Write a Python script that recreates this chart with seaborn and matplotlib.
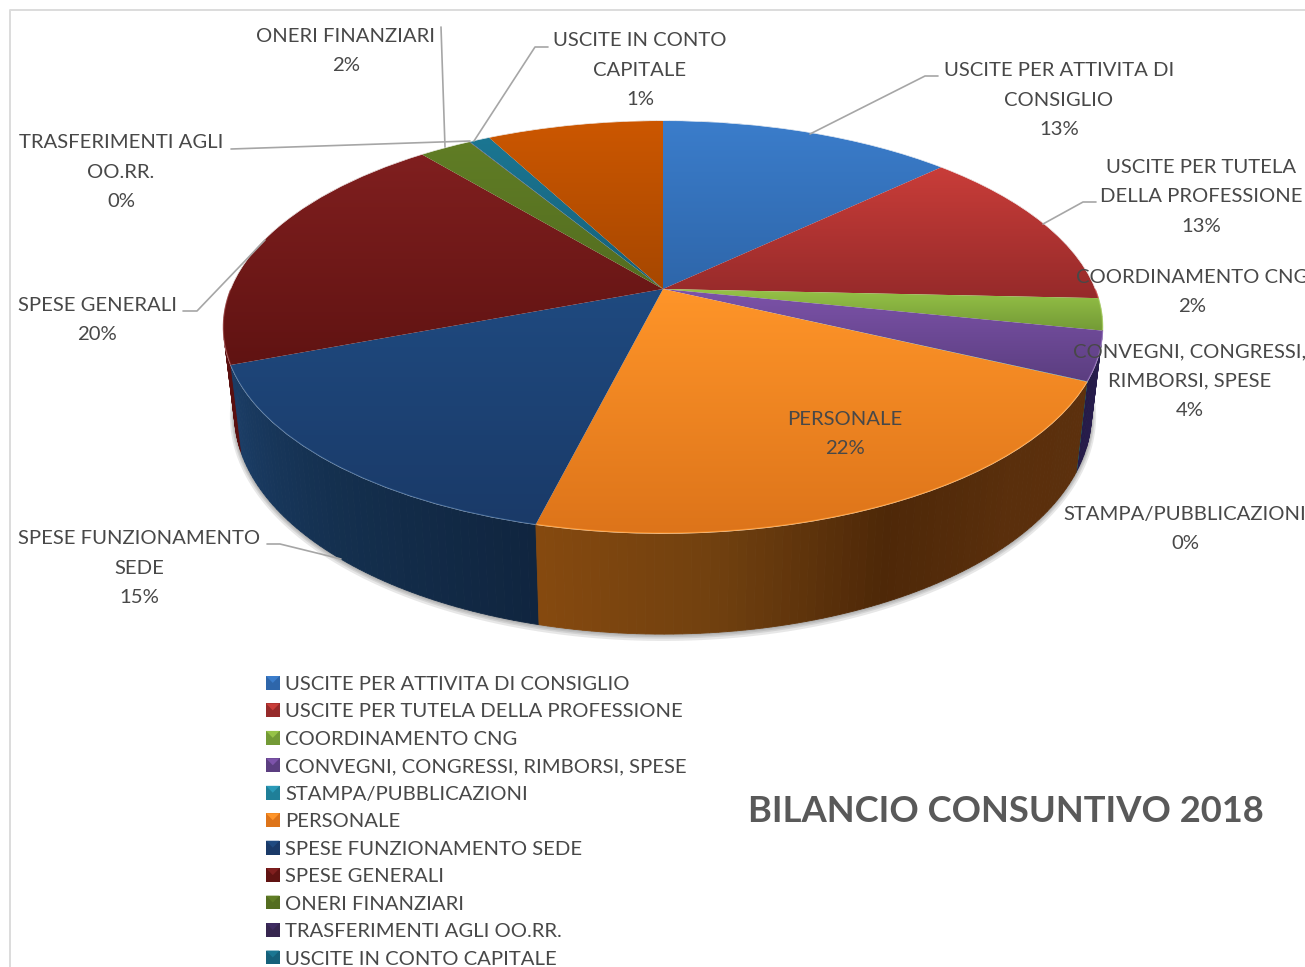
import numpy as np
import seaborn as sns
import matplotlib.pyplot as plt
from matplotlib.legend_handler import HandlerBase
from matplotlib.patches import Patch, Polygon, Rectangle
from matplotlib.transforms import Transform

# last value has no name, the legend row is cut off in the picture
categories = ["USCITE PER ATTIVITA DI CONSIGLIO", "USCITE PER TUTELA DELLA PROFESSIONE",
              "COORDINAMENTO CNG", "CONVEGNI, CONGRESSI, RIMBORSI, SPESE",
              "STAMPA/PUBBLICAZIONI", "PERSONALE", "SPESE FUNZIONAMENTO SEDE",
              "SPESE GENERALI", "ONERI FINANZIARI", "TRASFERIMENTI AGLI OO.RR.",
              "USCITE IN CONTO CAPITALE"]
values = [12.9, 12.8, 2.5, 3.8, 0.03, 21.8, 15.3, 19.8, 2.3, 0.03, 0.9, 7.74]
label_text = ["USCITE PER ATTIVITA DI\nCONSIGLIO", "USCITE PER TUTELA\nDELLA PROFESSIONE",
              "COORDINAMENTO CNG", "CONVEGNI, CONGRESSI,\nRIMBORSI, SPESE",
              "STAMPA/PUBBLICAZIONI", "PERSONALE", "SPESE FUNZIONAMENTO\nSEDE",
              "SPESE GENERALI", "ONERI FINANZIARI", "TRASFERIMENTI AGLI\nOO.RR.",
              "USCITE IN CONTO\nCAPITALE"]
title = "BILANCIO CONSUNTIVO 2018"

# top surface colours, upper edge -> lower edge
top_colors = [("#3b7dcb", "#2e66aa"), ("#c93d39", "#962a2a"), ("#96c247", "#739a36"),
              ("#7d53aa", "#5b3e80"), ("#2a9ab8", "#1f7f98"), ("#ff9529", "#dd741a"),
              ("#1f4a80", "#1a3a68"), ("#801f1f", "#601312"), ("#607d25", "#546d20"),
              ("#3f2c62", "#36264f"), ("#1b7692", "#16607a"), ("#cc5700", "#a64700")]
# side wall colours, going clockwise
wall_colors = [["#2a5a94"], ["#7a2220"], ["#5f7f2c"], ["#2a1f50", "#251b48"], ["#1f5a6c"],
               ["#5c300d", "#5a2f0c", "#4e2808", "#70400f", "#85490f"],
               ["#10253f", "#14304f", "#1b3d66"], ["#5a1010"], ["#4a601c"],
               ["#2c1f48"], ["#124c60"], ["#7a3400"]]

# label centre x, y (pixels)
label_pos = [(1059, 100), (1201, 197), (1192, 292), (1190, 381), (1185, 529), (845, 434),
             (139, 568), (97, 320), (346, 51), (121, 172), (640, 70)]
leader_lines = [[(938, 76), (925, 76), (810, 134)], [(1096, 202), (1083, 202), (1043, 224)],
                [(267, 544), (280, 544), (341, 559)], [(183, 311), (197, 311), (265, 240)],
                [(441, 27), (445, 147)], [(231, 149), (470, 141)],
                [(548, 47), (535, 47), (474, 141)]]

sns.set_theme(style="white")
plt.rcParams["font.family"] = "Lato"
TEXT = "#484848"
LINE_STEP = 29.5

# perspective of the disc, fitted on the picture
CX, CY, BX, BY, K = 663, 289, 432, 199, 0.1845
DEPTH, WALL_X, WALL_Y = 84, 0.975, 1.07


def project(u, v, sx=1.0, sy=1.0, dy=0.0):
    w = 1 + K * v
    return CX + sx * BX * u / w, CY + dy - sy * BY * v / w


class PieView(Transform):
    input_dims = 2
    output_dims = 2

    def transform_non_affine(self, xy):
        x, y = project(xy[:, 0], xy[:, 1])
        return np.column_stack([x, y])


fig = plt.figure(figsize=(13.05, 9.67), dpi=100)
ax = fig.add_axes([0, 0, 1, 1])

wedges, _ = ax.pie(values, startangle=90, counterclock=False, radius=1,
                   colors=[c[1] for c in top_colors])
ax.set_aspect("auto")
ax.axis("off")

ends = np.cumsum(values) / np.sum(values) * 2 * np.pi
starts = np.r_[0, ends[:-1]]

# soft shadow under the pie
ring = np.linspace(0, 2 * np.pi, 300)
for e in [4.5, 3, 2, 1]:
    sx = WALL_X + e / BX
    sy = WALL_Y + e / BY
    px, py = project(np.sin(ring), np.cos(ring), sx, sy, DEPTH + e * 0.3)
    ax.fill(px, py, color="#404040", alpha=0.12, lw=0, zorder=0.5)

# side walls, back wedges first
order = np.argsort(np.cos((starts + ends) / 2))[::-1]
for i in order:
    n = max(2, int(np.degrees(ends[i] - starts[i])))
    t = np.linspace(starts[i], ends[i], n + 1)
    shades = sns.blend_palette(wall_colors[i] * (2 if len(wall_colors[i]) == 1 else 1), n_colors=n)
    for j in range(n):
        a = t[j:j + 2]
        x1, y1 = project(np.sin(a), np.cos(a))
        x2, y2 = project(np.sin(a), np.cos(a), WALL_X, WALL_Y, DEPTH)
        ax.fill(np.r_[x1, x2[::-1]], np.r_[y1, y2[::-1]], color=shades[j], lw=0.6, zorder=1)

# top surface, gradient clipped on each wedge
view = PieView() + ax.transData
for i, w in enumerate(wedges):
    w.set_transform(view)
    w.set_zorder(2)
    a = np.linspace(starts[i], ends[i], 60)
    x, y = project(np.sin(a), np.cos(a))
    y0, y1 = min(y.min(), CY), max(y.max(), CY)
    x0, x1 = min(x.min(), CX), max(x.max(), CX)
    cmap = sns.blend_palette(top_colors[i], as_cmap=True)
    im = ax.imshow(np.linspace(0, 1, 256)[:, None], cmap=cmap, aspect="auto",
                   extent=(x0, x1, y1, y0), zorder=3)
    im.set_clip_path(w)
    # lighter rim only on the front side
    front = np.cos(a) < 0
    if front.sum() > 1:
        ax.plot(x[front], y[front], color=top_colors[i][0], lw=1.0, alpha=0.7, zorder=4)

# leader lines
for line in leader_lines:
    ax.plot(*zip(*line), color="#a6a6a6", lw=1.2, zorder=5)

# data labels, one text per line so the step is exact
for txt, v, (lx, ly) in zip(label_text, values, label_pos):
    rows = txt.split("\n") + [f"{round(v)}%"]
    for k, row in enumerate(rows):
        ax.text(lx, ly + (k - (len(rows) - 1) / 2) * LINE_STEP, row, ha="center", va="center",
                fontsize=14.6, color=TEXT, zorder=6)

ax.text(1006, 811, title, ha="center", va="center", fontsize=26.2, fontweight="bold",
        color="#595959")

# frame of the chart area, only top and left are in the picture
ax.plot([10, 10, 1305], [967, 10, 10], color="#dcdcdc", lw=1.4, zorder=0.2)


class BevelHandler(HandlerBase):
    def create_artists(self, legend, orig, xd, yd, width, height, fontsize, trans):
        base = Rectangle((-xd, -yd), width, height, facecolor=orig.get_edgecolor(), lw=0, transform=trans)
        tri = Polygon([(-xd, height - yd), (width - xd, height - yd), (width / 2 - xd, height / 2 - yd)],
                      facecolor=orig.get_facecolor(), lw=0, transform=trans)
        return [base, tri]


handles = [Patch(facecolor=top_colors[i][0], edgecolor=top_colors[i][1], label=c)
           for i, c in enumerate(categories)]
ax.legend(handles=handles, loc="upper left", bbox_to_anchor=(266, 676), bbox_transform=ax.transData,
          frameon=False, fontsize=14.6, labelspacing=0.515, handlelength=0.67, handleheight=0.67,
          handletextpad=0.28, borderpad=0, borderaxespad=0, labelcolor=TEXT,
          handler_map={Patch: BevelHandler()})

ax.set_xlim(0, 1305)
ax.set_ylim(967, 0)
fig.savefig("out.png", dpi=100)
